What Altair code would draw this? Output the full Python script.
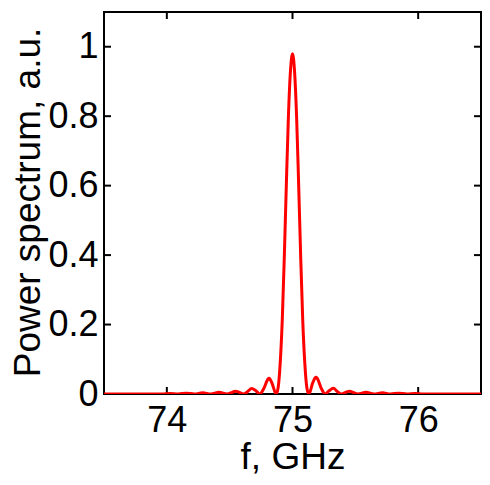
import altair as alt
import pandas as pd

# Frequency (GHz) and power spectrum (a.u.)
freq = [73.5, 73.96, 74.025, 74.09, 74.155, 74.22, 74.285, 74.35, 74.415, 74.48,
        74.512, 74.545, 74.577, 74.61, 74.642, 74.675, 74.707, 74.74, 74.772, 74.805,
        74.814, 74.837, 74.87, 74.886, 74.902, 74.919, 74.935, 74.951, 74.967, 74.984,
        75.0,
        75.016, 75.033, 75.049, 75.065, 75.081, 75.098, 75.114, 75.13, 75.163, 75.186,
        75.195, 75.228, 75.26, 75.293, 75.325, 75.358, 75.39, 75.423, 75.455, 75.488,
        75.52, 75.585, 75.65, 75.715, 75.78, 75.845, 75.91, 75.975, 76.04, 76.5]
power = [0.0, 0.0, 0.0018, 0.0, 0.0024, 0.0, 0.0033, 0.0, 0.0049, 0.0,
         0.0035, 0.0081, 0.0047, 0.0, 0.0066, 0.0159, 0.0098, 0.0, 0.016, 0.043,
         0.045, 0.031, 0.0, 0.019, 0.088, 0.217, 0.397, 0.603, 0.794, 0.931,
         0.98,
         0.931, 0.794, 0.603, 0.397, 0.217, 0.088, 0.019, 0.0, 0.034, 0.048,
         0.046, 0.017, 0.0, 0.0098, 0.0162, 0.0066, 0.0, 0.0047, 0.0081, 0.0035,
         0.0, 0.0049, 0.0, 0.0033, 0.0, 0.0024, 0.0, 0.0018, 0.0, 0.0]

x_ticks = [74, 75, 76]
y_ticks = [0, 0.2, 0.4, 0.6, 0.8, 1]

W, H = 377, 382
FONT = "Liberation Sans"

df = pd.DataFrame({"f": freq, "p": power})
xt = pd.DataFrame({"f": x_ticks})
yt = pd.DataFrame({"p": y_ticks})

xscale = alt.Scale(domain=[73.5, 76.5], nice=False, zero=False)
yscale = alt.Scale(domain=[0, 1.1], nice=False, zero=False)

xaxis = alt.Axis(values=x_ticks, title="f, GHz", grid=False, domain=False, ticks=False,
                 tickSize=0, labelFontSize=36, labelFont=FONT, labelColor="black",
                 labelPadding=9, titleFontSize=37, titleFont=FONT, titleFontWeight="normal",
                 titleColor="black", titleBaseline="alphabetic", titleY=74, titleX=W / 2,
                 labelFlush=False)
yaxis = alt.Axis(values=y_ticks, title="Power spectrum, a.u.", grid=False, domain=False,
                 ticks=False, tickSize=0, format="~g", labelFontSize=36, labelFont=FONT,
                 labelColor="black", labelPadding=6, titleFontSize=37, titleFont=FONT,
                 titleFontWeight="normal", titleColor="black", titleAngle=-90,
                 titleBaseline="alphabetic", titleAlign="center", titleX=-65, titleY=H / 2 - 1,
                 labelFlush=False)

line = alt.Chart(df).mark_line(color="#ff0000", strokeWidth=3, interpolate="monotone",
                               clip=True).encode(
    x=alt.X("f:Q", scale=xscale, axis=xaxis),
    y=alt.Y("p:Q", scale=yscale, axis=yaxis),
)

tick_len = 7
xb = alt.Chart(xt).mark_rule(color="black", strokeWidth=2).encode(
    x=alt.X("f:Q", scale=xscale, axis=xaxis), y=alt.value(H), y2=alt.value(H - tick_len))
xtop = alt.Chart(xt).mark_rule(color="black", strokeWidth=2).encode(
    x=alt.X("f:Q", scale=xscale, axis=xaxis), y=alt.value(0), y2=alt.value(tick_len))
yl = alt.Chart(yt).mark_rule(color="black", strokeWidth=2).encode(
    y=alt.Y("p:Q", scale=yscale, axis=yaxis), x=alt.value(0), x2=alt.value(tick_len))
yr = alt.Chart(yt).mark_rule(color="black", strokeWidth=2).encode(
    y=alt.Y("p:Q", scale=yscale, axis=yaxis), x=alt.value(W), x2=alt.value(W - tick_len))

chart = alt.layer(xb, xtop, yl, yr, line).properties(
    width=W, height=H,
    background="white",
    autosize=alt.AutoSizeParams(type="none"),
    padding={"left": 96, "top": 4, "right": 1, "bottom": 83},
).configure_view(stroke="black", strokeWidth=2)

chart.save("out.html", embed_options={"renderer": "svg", "actions": False})
